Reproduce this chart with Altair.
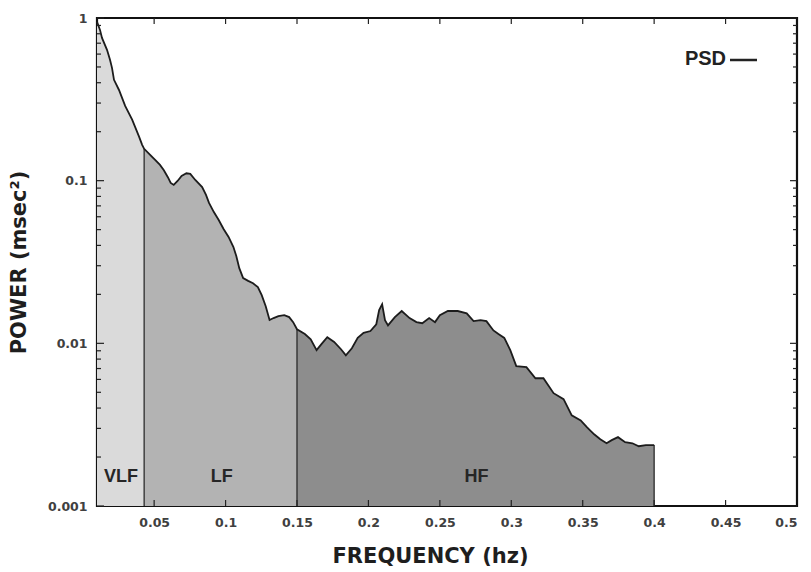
import altair as alt
import pandas as pd

# ---- data ----
freq = [0.0100, 0.0121, 0.0135, 0.0170, 0.0191, 0.0205, 0.0219, 0.0254, 0.0297, 0.0346,
        0.0395, 0.0416, 0.0430, 0.0472, 0.0507, 0.0541, 0.0568, 0.0596, 0.0616, 0.0637,
        0.0664, 0.0692, 0.0726, 0.0753, 0.0788, 0.0836, 0.0863, 0.0884, 0.0918, 0.0952,
        0.0986, 0.1021, 0.1055, 0.1075, 0.1096, 0.1123, 0.1158, 0.1192, 0.1226, 0.1253,
        0.1281, 0.1308, 0.1336, 0.1370, 0.1411, 0.1445, 0.1473, 0.1500, 0.1555, 0.1596,
        0.1637, 0.1671, 0.1712, 0.1760, 0.1808, 0.1842, 0.1884, 0.1925, 0.1966, 0.2014,
        0.2055, 0.2075, 0.2096, 0.2116, 0.2137, 0.2185, 0.2233, 0.2288, 0.2336, 0.2377,
        0.2425, 0.2466, 0.2500, 0.2556, 0.2625, 0.2688, 0.2736, 0.2785, 0.2826, 0.2875,
        0.2910, 0.2951, 0.2993, 0.3035, 0.3106, 0.3169, 0.3225, 0.3296, 0.3366, 0.3423,
        0.3486, 0.3529, 0.3580, 0.3623, 0.3667, 0.3703, 0.3747, 0.3797, 0.3848, 0.3892,
        0.3942, 0.4000]
power = [0.948, 0.845, 0.755, 0.637, 0.553, 0.494, 0.417, 0.361, 0.288, 0.237,
         0.186, 0.166, 0.157, 0.144, 0.134, 0.125, 0.116, 0.105, 0.0968, 0.0942,
         0.0996, 0.107, 0.111, 0.110, 0.101, 0.0914, 0.0817, 0.0730, 0.0641, 0.0573,
         0.0505, 0.0451, 0.0391, 0.0344, 0.0290, 0.0252, 0.0242, 0.0234, 0.0222, 0.0198,
         0.0169, 0.0139, 0.0143, 0.0147, 0.0149, 0.0145, 0.0135, 0.0122, 0.0114, 0.0106,
         0.00908, 0.00989, 0.0109, 0.0102, 0.00920, 0.00845, 0.00933, 0.0108, 0.0116, 0.0119,
         0.0131, 0.0160, 0.0174, 0.0139, 0.0129, 0.0145, 0.0158, 0.0143, 0.0135, 0.0133,
         0.0143, 0.0135, 0.0149, 0.0158, 0.0158, 0.0153, 0.0137, 0.0139, 0.0137, 0.0120,
         0.0114, 0.0108, 0.00908, 0.00724, 0.00714, 0.00610, 0.00610, 0.00494, 0.00454, 0.00361,
         0.00336, 0.00305, 0.00276, 0.00257, 0.00243, 0.00254, 0.00265, 0.00247, 0.00243, 0.00233,
         0.00237, 0.00237]

band_names = ["VLF", "LF", "HF"]
band_edges = [0.01, 0.043, 0.15, 0.4]
band_colors = ["#dadada", "#b3b3b3", "#8d8d8d"]
band_label_freq = [0.0268, 0.0973, 0.2757]

x_ticks = [0.05, 0.1, 0.15, 0.2, 0.25, 0.3, 0.35, 0.4, 0.45, 0.5]
y_ticks = [0.001, 0.01, 0.1, 1]
legend_label = ["PSD"]

BASE = 0.001
W, H = 700, 488

# ---- tables ----
rows = []
for i, name in enumerate(band_names):
    lo, hi = band_edges[i], band_edges[i + 1]
    for f, p in zip(freq, power):
        if lo - 1e-9 <= f <= hi + 1e-9:
            rows.append({"freq": f, "power": p, "base": BASE, "band": name})
area_df = pd.DataFrame(rows)
curve_df = pd.DataFrame({"freq": freq, "power": power})

lookup = dict(zip(freq, power))
div_df = pd.DataFrame({"freq": band_edges[1:],
                       "power": [lookup[e] for e in band_edges[1:]],
                       "base": [BASE] * 3})

label_df = pd.DataFrame({"freq": band_label_freq, "label": band_names})

xt_df = pd.DataFrame({"freq": x_ticks[:-1]})
major_y = pd.DataFrame({"power": y_ticks})
minor_y = pd.DataFrame({"power": [m * d for d in y_ticks[:-1] for m in range(2, 10)]})

LABEL_FONT = "DejaVu Sans"
TEXT_FONT = "Liberation Sans"
TITLE_FONT = "DejaVu Sans"

xscale = alt.Scale(domain=[0.01, 0.5], nice=False, zero=False)
yscale = alt.Scale(type="log", domain=[0.001, 1], nice=False)

xaxis = alt.Axis(values=x_ticks, format="~g", title="FREQUENCY (hz)",
                 ticks=False, domain=False, grid=False,
                 labelFont=LABEL_FONT, labelFontSize=12.5, labelFontWeight="bold",
                 labelColor="#404040", labelPadding=10,
                 titleFont=TITLE_FONT, titleFontSize=21, titleFontWeight="bold",
                 titleColor="#1e1e1e", titlePadding=17, titleX=333, titleAlign="center")
yaxis = alt.Axis(values=y_ticks, format="~g", title="POWER (msec²)",
                 ticks=False, domain=False, grid=False,
                 labelFont=LABEL_FONT, labelFontSize=12.5, labelFontWeight="bold",
                 labelColor="#404040", labelPadding=10,
                 titleFont=TITLE_FONT, titleFontSize=21, titleFontWeight="bold",
                 titleColor="#1e1e1e", titleX=-68, titleY=H / 2,
                 titleAngle=270, titleBaseline="bottom", titleAlign="center")


def X(field="freq:Q"):
    return alt.X(field, scale=xscale, axis=xaxis, title="FREQUENCY (hz)")


def Y(field="power:Q"):
    return alt.Y(field, scale=yscale, axis=yaxis, stack=None, title="POWER (msec²)")


areas = alt.Chart(area_df).mark_area(opacity=1).encode(
    x=X(), y=Y(), y2="base:Q",
    color=alt.Color("band:N", scale=alt.Scale(domain=band_names, range=band_colors), legend=None),
)

curve = alt.Chart(curve_df).mark_line(color="#1c1c1c", strokeWidth=1.8).encode(x=X(), y=Y())

dividers = alt.Chart(div_df).mark_rule(color="#2a2a2a", strokeWidth=1.3).encode(
    x=X(), y=Y(), y2="base:Q")

band_labels = alt.Chart(label_df).mark_text(
    font=TEXT_FONT, fontSize=18, fontWeight="bold", color="#262626", baseline="middle"
).encode(x=X(), y=alt.value(459), text="label:N")

tick_style = dict(color="#222222", strokeWidth=1.2)
xt_bottom = alt.Chart(xt_df).mark_rule(**tick_style).encode(
    x=X(), y=alt.value(H), y2=alt.value(H - 6))
xt_top = alt.Chart(xt_df).mark_rule(**tick_style).encode(
    x=X(), y=alt.value(0), y2=alt.value(6))
yt_left = alt.Chart(major_y).mark_rule(**tick_style).encode(
    y=Y(), x=alt.value(0), x2=alt.value(7))
yt_right = alt.Chart(major_y).mark_rule(**tick_style).encode(
    y=Y(), x=alt.value(W), x2=alt.value(W - 7))
ym_left = alt.Chart(minor_y).mark_rule(**tick_style).encode(
    y=Y(), x=alt.value(0), x2=alt.value(4))
ym_right = alt.Chart(minor_y).mark_rule(**tick_style).encode(
    y=Y(), x=alt.value(W), x2=alt.value(W - 4))

legend_df = pd.DataFrame({"label": legend_label})
legend_text = alt.Chart(legend_df).mark_text(
    font=TEXT_FONT, fontSize=20, fontWeight="bold", color="#222222",
    align="right", baseline="middle"
).encode(x=alt.value(629), y=alt.value(41), text="label:N")
legend_line = alt.Chart(legend_df).mark_rule(color="#222222", strokeWidth=2.5).encode(
    x=alt.value(633), x2=alt.value(660), y=alt.value(42))

chart = alt.layer(
    areas, dividers, curve, band_labels,
    xt_bottom, xt_top, yt_left, yt_right, ym_left, ym_right,
    legend_text, legend_line,
).properties(
    width=W, height=H,
    autosize=alt.AutoSizeParams(type="none"),
    padding={"left": 89, "top": 10, "right": 6, "bottom": 64},
    background="white",
).configure_view(
    stroke="#111111", strokeWidth=2.2
)

chart.save("out.html", embed_options={"renderer": "svg", "actions": False})
